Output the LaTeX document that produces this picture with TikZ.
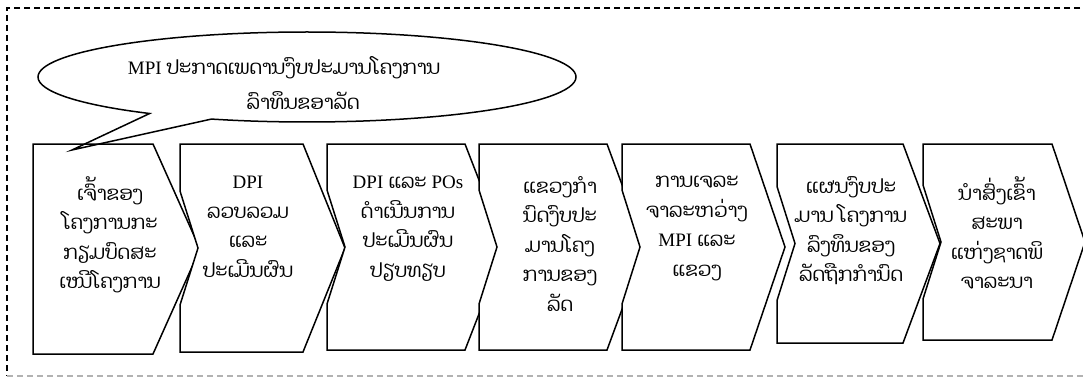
\documentclass[tikz,border=0pt]{standalone}
\usepackage{fontspec}
\setmainfont{Liberation Serif}
\newfontfamily\laofont[Script=Lao, Scale=1.03]{Dhyana}
\newcommand{\latn}[1]{{\rmfamily #1}}
\usetikzlibrary{shapes.callouts}

\tikzset{
  stage/.style={draw=black, fill=white, line width=1.5pt, line join=miter},
  stagetext/.style={anchor=north, align=center, inner sep=0pt,
    font=\laofont\fontsize{19}{29.5}\selectfont},
  frame/.style={dashed, dash pattern=on 6pt off 4pt, line width=1.3pt},
}

\begin{document}
\begin{tikzpicture}[x=1pt, y=-1pt]
  \useasboundingbox (0,0) rectangle (1083,377);

  % outer frame
  \draw[frame] (1090,8) -- (7,8) -- (7,376);
  \draw[frame, gray!60] (7,376) -- (1090,376);

  % chevrons: left / right / bottom / tip
  \foreach \l/\r/\b/\p [count=\i] in {33/153/354/200, 180/303/352/345,
      327/465/350/505, 479/607/350/645, 622/750/350/785,
      777/903/343/940, 923/1052/340/1085} {
    \pgfmathsetmacro{\m}{(144+\b)/2}
    \ifnum\i=1
      \draw[stage] (\l,144) -- (\r,144) -- (\p,\m) -- (\r,\b) -- (\l,\b) -- cycle;
    \else
      \draw[stage] (\l,144) -- (\r,144) -- (\p,\m) -- (\r,\b) -- (\l,\b)
        -- (\l,\m+57) -- (\l+18,\m) -- (\l,\m-57) -- cycle;
    \fi
  }

  % texts of the stages
  \node[stagetext] (t1) at (110,176) {ເຈົ້າຂອງ\\ໂຄງການກະ\\ກຽມບົດສະ\\ເໜີໂຄງການ};
  \node[stagetext] (t2) at (248,176) {\latn{DPI}\\ລວບລວມ\\ແລະ\\ປະເມີນຜົນ};
  \node[stagetext] (t3) at (408,176) {\latn{DPI} ແລະ \latn{POs}\\ດຳເນີນການ\\ປະເມີນຜົນ\\ປຽບທຽບ};
  \node[stagetext] (t4) at (560,176) {ແຂວງກຳ\\ນົດງົບປະ\\ມານໂຄງ\\ການຂອງ\\ລັດ};
  \node[stagetext] (t5) at (697,176) {ການເຈລະ\\ຈາລະຫວ່າງ\\\latn{MPI} ແລະ\\ແຂວງ};
  \node[stagetext] (t6) at (851,176) {ແຜນງົບປະ\\ມານ ໂຄງການ\\ລົງທຶນຂອງ\\ລັດຖືກກຳນົດ};
  \node[stagetext] (t7) at (997,176) {ນຳສົ່ງເຂົ້າ\\ສະພາ\\ແຫ່ງຊາດພິ\\ຈາລະນາ};

  % speech bubble
  \node[ellipse callout, draw, line width=1.5pt, minimum width=538pt, minimum height=90pt,
    callout absolute pointer={(72,150)}] (bubble) at (307,77) {};
  \node[stagetext, anchor=center, font=\laofont\fontsize{19}{35}\selectfont]
    (mpi) at (284,83) {\latn{MPI} ປະກາດເພດານງົບປະມານໂຄງການ\\\hspace*{38pt}ລົາທຶນຂອາລັດ};
\end{tikzpicture}
\end{document}
